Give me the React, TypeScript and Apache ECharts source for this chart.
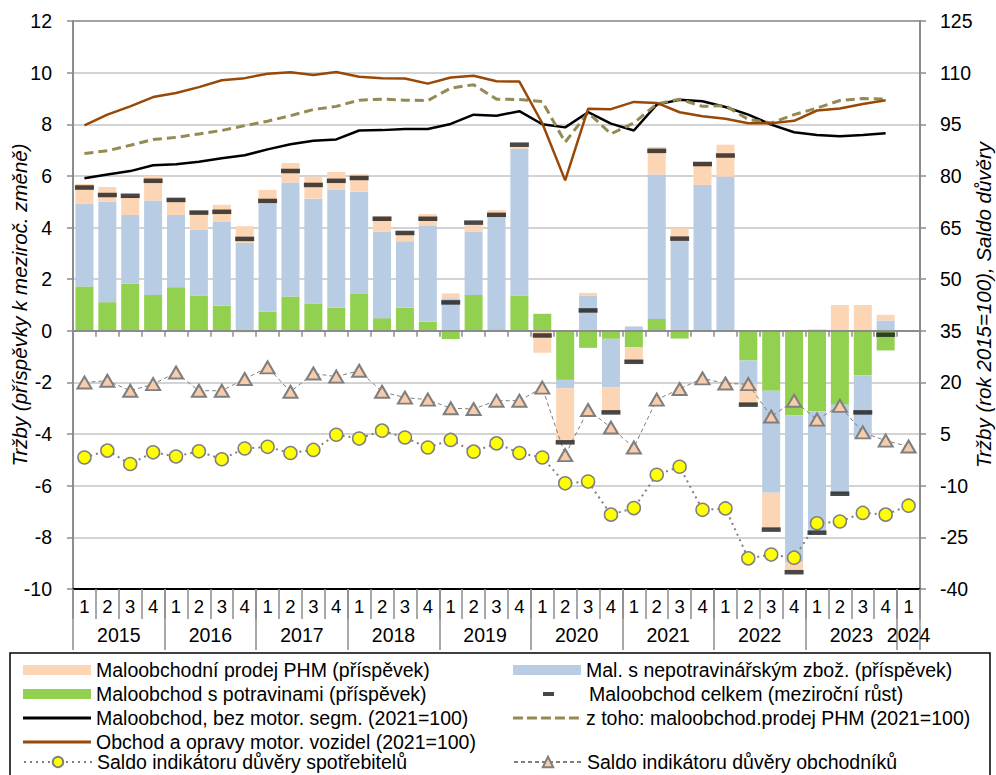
import React, { useEffect, useRef } from "react";
import * as echarts from "echarts";

// ---------- data ----------
const years = ["2015", "2016", "2017", "2018", "2019", "2020", "2021", "2022", "2023", "2024"];
const quarterLabels = ["1", "2", "3", "4"];

// contributions to y/y change (left axis)
const food = [1.72, 1.11, 1.82, 1.39, 1.69, 1.37, 0.97, -0.05, 0.74, 1.33, 1.06, 0.9, 1.45, 0.49, 0.89, 0.35, -0.32, 1.39, 0.06, 1.37, 0.66, -1.9, -0.66, -0.31, -0.63, 0.46, -0.3, 0, -0.03, -1.15, -2.32, -3.28, -3.12, -2.86, -1.73, -0.76, null];
const nonFood = [3.2, 3.89, 2.67, 3.66, 2.8, 2.55, 3.26, 3.41, 4.19, 4.41, 4.06, 4.56, 3.94, 3.36, 2.58, 3.71, 1.26, 2.46, 4.33, 5.68, 0, -0.32, 1.37, -1.87, 0.17, 5.59, 3.5, 5.65, 5.97, -0.94, -3.95, -5.67, -4.65, -3.45, -2.43, 0.4, null];
const fuel = [0.77, 0.57, 0.73, 0.95, 0.62, 0.7, 0.65, 0.64, 0.53, 0.76, 0.85, 0.69, 0.67, 0.59, 0.35, 0.46, 0.19, 0.24, 0.28, 0.1, -0.85, -2.06, 0.1, -0.98, -0.58, 1.07, 0.47, 0.9, 1.24, -0.77, -1.41, -0.33, 0.06, 1.0, 1.0, 0.22, null];
const total = [5.55, 5.26, 5.23, 5.81, 5.07, 4.58, 4.61, 3.56, 5.03, 6.19, 5.65, 5.81, 5.92, 4.34, 3.79, 4.34, 1.1, 4.19, 4.49, 7.21, -0.18, -4.32, 0.79, -3.16, -1.2, 6.97, 3.57, 6.46, 6.79, -2.86, -7.7, -9.35, -7.82, -6.31, -3.16, -0.15, null];

// indices (right axis)
const retailExMotor = [79.3, 80.4, 81.4, 83.1, 83.4, 84.1, 85.1, 86.0, 87.7, 89.2, 90.2, 90.6, 93.2, 93.3, 93.6, 93.6, 95.1, 97.8, 97.5, 98.8, 95.0, 94.1, 98.5, 95.2, 93.2, 100.7, 102.1, 101.7, 100.0, 97.8, 94.9, 92.7, 91.9, 91.5, 91.9, 92.4, null];
const fuelIndex = [86.5, 87.3, 88.9, 90.6, 91.2, 92.2, 93.2, 94.6, 95.9, 97.5, 99.3, 100.2, 102.0, 102.3, 102.0, 101.9, 105.5, 106.5, 102.3, 102.2, 101.6, 89.8, 98.4, 92.2, 95.4, 100.9, 102.3, 100.2, 100.4, 96.4, 95.4, 97.8, 99.7, 101.9, 102.5, 102.3, null];
const motorTrade = [94.7, 97.8, 100.2, 102.9, 104.1, 105.8, 107.8, 108.4, 109.7, 110.1, 109.3, 110.2, 108.8, 108.4, 108.3, 106.8, 108.6, 109.1, 107.5, 107.4, 95.3, 78.7, 99.5, 99.4, 101.5, 101.2, 98.5, 97.3, 96.6, 95.3, 95.3, 96.0, 99.0, 99.6, 100.9, 102.0, null];

// confidence balances (right axis)
const consumerConf = [-1.8, 0.2, -3.7, -0.3, -1.5, 0.0, -2.3, 0.8, 1.3, -0.5, 0.4, 4.8, 3.7, 6.0, 4.0, 1.1, 3.3, -0.1, 2.3, -0.5, -1.8, -9.3, -8.8, -18.4, -16.5, -6.8, -4.5, -17.0, -16.6, -31.1, -30.0, -30.9, -20.9, -20.4, -17.9, -18.4, -15.8];
const traderConf = [20.0, 20.5, 17.6, 19.5, 22.9, 17.6, 17.6, 21.0, 24.4, 17.3, 22.6, 21.7, 23.4, 17.3, 15.6, 15.0, 12.5, 12.3, 14.7, 14.7, 18.5, -1.1, 12.0, 6.9, 1.1, 15.0, 18.1, 21.2, 19.7, 19.5, 10.1, 14.7, 9.2, 13.2, 5.5, 3.1, 1.4];

const names = {
  fuel: "Maloobchodní prodej PHM (příspěvek)",
  nonFood: "Mal. s nepotravinářským zbož. (příspěvek)",
  food: "Maloobchod s potravinami (příspěvek)",
  total: "Maloobchod celkem (meziroční růst)",
  retail: "Maloobchod, bez motor. segm. (2021=100)",
  fuelIdx: "z toho: maloobchod.prodej PHM (2021=100)",
  motor: "Obchod a opravy motor. vozidel (2021=100)",
  cons: "Saldo indikátoru důvěry spotřebitelů",
  trad: "Saldo indikátoru důvěry obchodníků",
};

// ---------- derived axis data ----------
const categories = years.flatMap((y, k) =>
  (k === years.length - 1 ? quarterLabels.slice(0, 1) : quarterLabels).map((q) => y + "-" + q)
);
const nQ = categories.length;
const halfSteps = Array.from({ length: nQ * 2 + 1 }, (_, j) => String(j));
const yearLabelAt = (j: number): string => {
  let start = 0;
  for (let k = 0; k < years.length; k++) {
    const len = k === years.length - 1 ? 1 : 4;
    if (j === start * 2 + len) return years[k];
    start += len;
  }
  return "";
};
const isYearBoundary = (j: number): boolean => {
  if (j === 0 || j === nQ * 2) return true;
  let start = 0;
  for (let k = 0; k < years.length; k++) {
    start += k === years.length - 1 ? 1 : 4;
    if (j === start * 2) return true;
  }
  return false;
};

const FONT = "'Liberation Sans', Arial, sans-serif";
const C = {
  peach: "#FCD5B5",
  blue: "#B8CCE4",
  green: "#92D050",
  dash: "#1a1a1a",
  brown: "#984807",
  olive: "#948A54",
  gray: "#8c8c8c",
  grid: "#c4c4c4",
};

const dashedIcon =
  "path://M0,0h10v3h-10z M14,0h10v3h-10z M28,0h10v3h-10z M42,0h10v3h-10z M56,0h10v3h-10z M68,0h0.1v3h-0.1z";

export default function App() {
  const ref = useRef<HTMLDivElement>(null);

  useEffect(() => {
    if (!ref.current) return;
    const chart = echarts.init(ref.current, undefined, { renderer: "svg" });

    const rowY = [660, 684, 708, 732, 752];
    const col1 = 23;
    const col2 = 513;
    const legBase = {
      orient: "horizontal" as const,
      padding: 0,
      selectedMode: false,
      textStyle: { fontSize: 19.5, color: "#000", fontFamily: FONT },
    };

    const option: any = {
      animation: false,
      textStyle: { fontFamily: FONT },
      grid: {
        left: 73,
        right: 76,
        top: 21,
        bottom: 186,
        containLabel: false,
        outerBoundsMode: "none",
        show: true,
        borderColor: "#000",
        borderWidth: 1.5,
        backgroundColor: "transparent",
      },
      legend: [
        { ...legBase, left: col1, top: rowY[0], data: [names.fuel], icon: "rect", itemWidth: 68, itemHeight: 10 },
        { ...legBase, left: col2, top: rowY[0], data: [names.nonFood], icon: "rect", itemWidth: 68, itemHeight: 10 },
        { ...legBase, left: col1, top: rowY[1], data: [names.food], icon: "rect", itemWidth: 68, itemHeight: 10 },
        {
          ...legBase,
          left: 543,
          top: rowY[1],
          data: [names.total],
          icon: "rect",
          itemWidth: 11,
          itemHeight: 4,
          textStyle: { ...legBase.textStyle, padding: [0, 0, 0, 30] },
        },
        { ...legBase, left: col1, top: rowY[2], data: [names.retail], icon: "rect", itemWidth: 68, itemHeight: 3 },
        { ...legBase, left: col2, top: rowY[2], data: [names.fuelIdx], icon: dashedIcon, itemWidth: 68, itemHeight: 3 },
        { ...legBase, left: col1, top: rowY[3], data: [names.motor], icon: "rect", itemWidth: 68, itemHeight: 3 },
        { ...legBase, left: col1, top: rowY[4], data: [names.cons], itemWidth: 68, itemHeight: 13 },
        { ...legBase, left: col2, top: rowY[4], data: [names.trad], itemWidth: 68, itemHeight: 13 },
      ],
      graphic: [
        {
          type: "rect",
          shape: { x: 10, y: 653, width: 980, height: 140 },
          style: { fill: "none", stroke: "#000", lineWidth: 1.5 },
          silent: true,
        },
      ],
      xAxis: [
        {
          type: "category",
          data: categories,
          position: "bottom",
          axisLine: { onZero: true, lineStyle: { color: C.gray, width: 2 } },
          axisTick: { show: true, interval: 0, length: 6, lineStyle: { color: C.gray, width: 1.5 } },
          axisLabel: { show: false },
          splitLine: { show: false },
          z: 10,
        },
        {
          type: "category",
          data: categories,
          position: "bottom",
          axisLine: { onZero: false, lineStyle: { color: "#000", width: 2 } },
          axisTick: { show: true, interval: 0, length: 30, lineStyle: { color: C.gray, width: 1.5 } },
          axisLabel: {
            interval: 0,
            margin: 8,
            fontSize: 18.5,
            color: "#000",
            fontFamily: FONT,
            formatter: (v: string) => v.split("-")[1],
          },
          splitLine: { show: false },
        },
        {
          type: "category",
          data: halfSteps,
          boundaryGap: false,
          position: "bottom",
          axisLine: { onZero: false, show: true, lineStyle: { color: "#000", width: 2 } },
          axisTick: {
            show: true,
            interval: (idx: number) => isYearBoundary(idx),
            length: 61,
            lineStyle: { color: C.gray, width: 1.5 },
          },
          axisLabel: {
            interval: 0,
            margin: 36,
            fontSize: 19.5,
            color: "#000",
            fontFamily: FONT,
            formatter: (_v: string, idx: number) => yearLabelAt(idx),
          },
          splitLine: { show: false },
        },
      ],
      yAxis: [
        {
          type: "value",
          position: "left",
          min: -10,
          max: 12,
          interval: 2,
          axisLine: { show: true, onZero: false, lineStyle: { color: C.gray, width: 2 } },
          axisTick: { show: true, length: 6, lineStyle: { color: C.gray, width: 1.5 } },
          axisLabel: { fontSize: 19.5, color: "#000", margin: 21, fontFamily: FONT },
          splitLine: { show: true, lineStyle: { color: C.grid, width: 1.5 } },
          name: "Tržby (příspěvky k meziroč. změně)",
          nameLocation: "middle",
          nameRotate: 90,
          nameGap: 44,
          nameMoveOverlap: false,
          nameTextStyle: { fontSize: 20.5, fontStyle: "italic", color: "#000", fontFamily: FONT },
        },
        {
          type: "value",
          position: "right",
          min: -40,
          max: 125,
          interval: 15,
          axisLine: { show: true, onZero: false, lineStyle: { color: C.gray, width: 2 } },
          axisTick: { show: true, length: 6, lineStyle: { color: C.gray, width: 1.5 } },
          axisLabel: { fontSize: 19.5, color: "#000", margin: 20, fontFamily: FONT },
          splitLine: { show: false },
          name: "Tržby (rok 2015=100), Saldo důvěry",
          nameLocation: "middle",
          nameRotate: 90,
          nameGap: 53,
          nameMoveOverlap: false,
          nameTextStyle: { fontSize: 20.5, fontStyle: "italic", color: "#000", fontFamily: FONT },
        },
      ],
      series: [
        {
          name: names.food,
          type: "bar",
          stack: "contrib",
          xAxisIndex: 0,
          yAxisIndex: 0,
          barWidth: 18,
          itemStyle: { color: C.green },
          data: food,
        },
        {
          name: names.nonFood,
          type: "bar",
          stack: "contrib",
          xAxisIndex: 0,
          yAxisIndex: 0,
          barWidth: 18,
          itemStyle: { color: C.blue },
          data: nonFood,
        },
        {
          name: names.fuel,
          type: "bar",
          stack: "contrib",
          xAxisIndex: 0,
          yAxisIndex: 0,
          barWidth: 18,
          itemStyle: { color: C.peach },
          data: fuel,
        },
        {
          name: names.retail,
          type: "line",
          xAxisIndex: 0,
          yAxisIndex: 1,
          symbol: "none",
          lineStyle: { color: "#000", width: 2.5 },
          itemStyle: { color: "#000" },
          data: retailExMotor,
          z: 4,
        },
        {
          name: names.fuelIdx,
          type: "line",
          xAxisIndex: 0,
          yAxisIndex: 1,
          symbol: "none",
          lineStyle: { color: C.olive, width: 3, type: [9, 5] },
          itemStyle: { color: C.olive },
          data: fuelIndex,
          z: 4,
        },
        {
          name: names.motor,
          type: "line",
          xAxisIndex: 0,
          yAxisIndex: 1,
          symbol: "none",
          lineStyle: { color: C.brown, width: 2.5 },
          itemStyle: { color: C.brown },
          data: motorTrade,
          z: 4,
        },
        {
          name: names.trad,
          type: "line",
          xAxisIndex: 0,
          yAxisIndex: 1,
          symbol: "triangle",
          symbolSize: [14, 12],
          lineStyle: { color: "#7f7f7f", width: 1, type: [4, 3] },
          itemStyle: { color: "#F9CBAA", borderColor: "#7f7f7f", borderWidth: 2 },
          data: traderConf,
          z: 5,
        },
        {
          name: names.cons,
          type: "line",
          xAxisIndex: 0,
          yAxisIndex: 1,
          symbol: "circle",
          symbolSize: 13,
          lineStyle: { color: "#7f7f7f", width: 2, type: [2, 4] },
          itemStyle: { color: "#FFFF00", borderColor: "#7f7f7f", borderWidth: 1.5 },
          data: consumerConf,
          z: 5,
        },
        {
          name: names.total,
          type: "scatter",
          xAxisIndex: 0,
          yAxisIndex: 0,
          symbol: "rect",
          symbolSize: [19, 4.5],
          itemStyle: { color: C.dash },
          data: total,
          z: 6,
        },
      ],
    };

    chart.setOption(option);
    return () => chart.dispose();
  }, []);

  return (
    <div
      ref={ref}
      style={{ position: "fixed", left: 0, top: 0, width: 996, height: 775, background: "#fff" }}
    />
  );
}
